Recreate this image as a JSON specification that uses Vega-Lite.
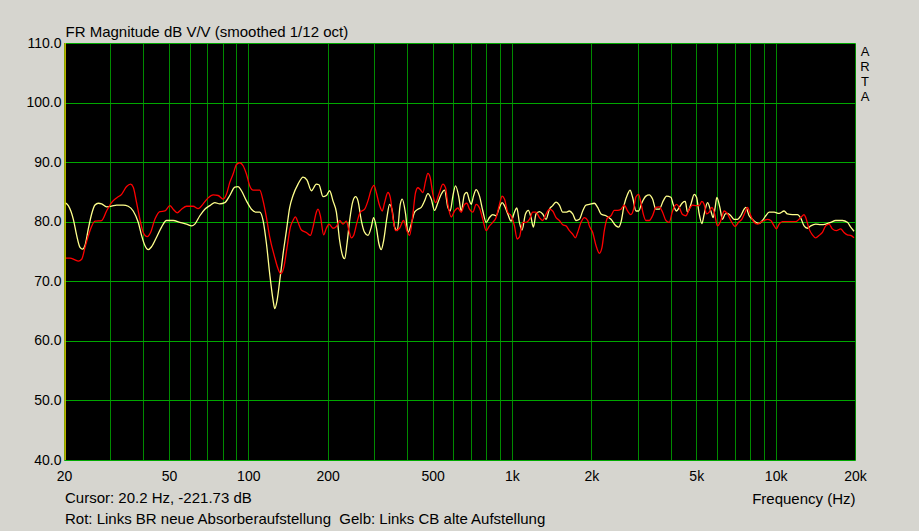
{
  "$schema": "https://vega.github.io/schema/vega-lite/v6.json",
  "width": 791,
  "height": 417,
  "autosize": "none",
  "padding": {"left": 64, "top": 43, "right": 64, "bottom": 71},
  "background": "#d6d5cf",
  "config": {
    "view": {"fill": "#000000", "stroke": null},
    "font": "Liberation Sans",
    "text": {"font": "Liberation Sans", "fontSize": 15, "color": "#000000"}
  },
  "datasets": {
    "fr": [
      {"s": "Gelb", "f": 20.17, "db": 83.2}, {"s": "Gelb", "f": 20.77, "db": 82.7}, {"s": "Gelb", "f": 21.7, "db": 80.4},
      {"s": "Gelb", "f": 22.34, "db": 77.7}, {"s": "Gelb", "f": 23.0, "db": 75.7}, {"s": "Gelb", "f": 23.53, "db": 75.4},
      {"s": "Gelb", "f": 24.02, "db": 76.0}, {"s": "Gelb", "f": 24.73, "db": 78.8}, {"s": "Gelb", "f": 25.46, "db": 81.3},
      {"s": "Gelb", "f": 26.21, "db": 82.8}, {"s": "Gelb", "f": 26.98, "db": 83.1}, {"s": "Gelb", "f": 27.78, "db": 83.0},
      {"s": "Gelb", "f": 29.01, "db": 82.5}, {"s": "Gelb", "f": 30.31, "db": 82.6}, {"s": "Gelb", "f": 31.66, "db": 82.8},
      {"s": "Gelb", "f": 33.56, "db": 82.8}, {"s": "Gelb", "f": 35.05, "db": 82.6}, {"s": "Gelb", "f": 36.6, "db": 81.8},
      {"s": "Gelb", "f": 38.24, "db": 79.9}, {"s": "Gelb", "f": 39.37, "db": 77.7}, {"s": "Gelb", "f": 40.54, "db": 76.0},
      {"s": "Gelb", "f": 41.73, "db": 75.3}, {"s": "Gelb", "f": 42.96, "db": 75.8}, {"s": "Gelb", "f": 44.88, "db": 77.4},
      {"s": "Gelb", "f": 46.88, "db": 79.1}, {"s": "Gelb", "f": 48.97, "db": 80.2}, {"s": "Gelb", "f": 51.9, "db": 80.2},
      {"s": "Gelb", "f": 55.01, "db": 79.9}, {"s": "Gelb", "f": 58.31, "db": 79.6}, {"s": "Gelb", "f": 60.9, "db": 79.3},
      {"s": "Gelb", "f": 62.69, "db": 79.6}, {"s": "Gelb", "f": 65.5, "db": 81.0}, {"s": "Gelb", "f": 68.42, "db": 82.1},
      {"s": "Gelb", "f": 71.47, "db": 82.7}, {"s": "Gelb", "f": 74.65, "db": 83.2}, {"s": "Gelb", "f": 77.98, "db": 83.0},
      {"s": "Gelb", "f": 81.45, "db": 83.2}, {"s": "Gelb", "f": 85.08, "db": 84.4}, {"s": "Gelb", "f": 88.87, "db": 85.8},
      {"s": "Gelb", "f": 91.5, "db": 85.9}, {"s": "Gelb", "f": 94.19, "db": 85.2}, {"s": "Gelb", "f": 98.4, "db": 83.5},
      {"s": "Gelb", "f": 102.8, "db": 82.1}, {"s": "Gelb", "f": 107.4, "db": 81.6}, {"s": "Gelb", "f": 110.5, "db": 81.6},
      {"s": "Gelb", "f": 113.8, "db": 80.2}, {"s": "Gelb", "f": 117.2, "db": 76.3}, {"s": "Gelb", "f": 120.6, "db": 71.2},
      {"s": "Gelb", "f": 124.2, "db": 66.8}, {"s": "Gelb", "f": 126.0, "db": 65.4}, {"s": "Gelb", "f": 128.6, "db": 66.8},
      {"s": "Gelb", "f": 131.6, "db": 70.1}, {"s": "Gelb", "f": 135.5, "db": 74.6}, {"s": "Gelb", "f": 139.5, "db": 78.5},
      {"s": "Gelb", "f": 143.6, "db": 82.4}, {"s": "Gelb", "f": 147.8, "db": 84.4}, {"s": "Gelb", "f": 154.4, "db": 86.3},
      {"s": "Gelb", "f": 161.3, "db": 87.5}, {"s": "Gelb", "f": 167.0, "db": 87.0}, {"s": "Gelb", "f": 173.5, "db": 85.2},
      {"s": "Gelb", "f": 181.2, "db": 86.3}, {"s": "Gelb", "f": 185.4, "db": 86.2}, {"s": "Gelb", "f": 192.0, "db": 84.2},
      {"s": "Gelb", "f": 197.7, "db": 84.4}, {"s": "Gelb", "f": 203.5, "db": 85.2}, {"s": "Gelb", "f": 209.5, "db": 83.5},
      {"s": "Gelb", "f": 215.8, "db": 81.6}, {"s": "Gelb", "f": 222.1, "db": 76.8}, {"s": "Gelb", "f": 228.7, "db": 74.1},
      {"s": "Gelb", "f": 232.0, "db": 73.8}, {"s": "Gelb", "f": 236.8, "db": 76.3}, {"s": "Gelb", "f": 242.3, "db": 80.2},
      {"s": "Gelb", "f": 249.5, "db": 83.5}, {"s": "Gelb", "f": 255.3, "db": 84.2}, {"s": "Gelb", "f": 260.6, "db": 83.5},
      {"s": "Gelb", "f": 268.3, "db": 80.2}, {"s": "Gelb", "f": 276.2, "db": 78.2}, {"s": "Gelb", "f": 284.3, "db": 77.7},
      {"s": "Gelb", "f": 292.7, "db": 79.1}, {"s": "Gelb", "f": 298.7, "db": 80.7}, {"s": "Gelb", "f": 305.8, "db": 79.1},
      {"s": "Gelb", "f": 312.9, "db": 76.3}, {"s": "Gelb", "f": 319.4, "db": 75.3}, {"s": "Gelb", "f": 326.0, "db": 76.8},
      {"s": "Gelb", "f": 335.6, "db": 80.7}, {"s": "Gelb", "f": 343.5, "db": 82.9}, {"s": "Gelb", "f": 351.6, "db": 81.8},
      {"s": "Gelb", "f": 358.8, "db": 79.1}, {"s": "Gelb", "f": 367.2, "db": 78.5}, {"s": "Gelb", "f": 376.9, "db": 82.9},
      {"s": "Gelb", "f": 383.6, "db": 83.8}, {"s": "Gelb", "f": 394.9, "db": 81.3}, {"s": "Gelb", "f": 403.0, "db": 78.2},
      {"s": "Gelb", "f": 414.9, "db": 79.6}, {"s": "Gelb", "f": 427.2, "db": 81.6}, {"s": "Gelb", "f": 439.8, "db": 82.1},
      {"s": "Gelb", "f": 452.8, "db": 82.4}, {"s": "Gelb", "f": 466.2, "db": 83.5}, {"s": "Gelb", "f": 479.9, "db": 84.7},
      {"s": "Gelb", "f": 494.1, "db": 83.8}, {"s": "Gelb", "f": 508.6, "db": 81.9}, {"s": "Gelb", "f": 523.6, "db": 83.2},
      {"s": "Gelb", "f": 539.1, "db": 84.6}, {"s": "Gelb", "f": 555.0, "db": 85.3}, {"s": "Gelb", "f": 571.4, "db": 82.4},
      {"s": "Gelb", "f": 583.1, "db": 81.8}, {"s": "Gelb", "f": 596.9, "db": 84.3}, {"s": "Gelb", "f": 610.9, "db": 86.0},
      {"s": "Gelb", "f": 628.9, "db": 84.1}, {"s": "Gelb", "f": 641.8, "db": 81.8}, {"s": "Gelb", "f": 660.7, "db": 84.6},
      {"s": "Gelb", "f": 674.3, "db": 84.9}, {"s": "Gelb", "f": 690.2, "db": 83.5}, {"s": "Gelb", "f": 700.3, "db": 82.9},
      {"s": "Gelb", "f": 714.7, "db": 84.3}, {"s": "Gelb", "f": 731.5, "db": 85.4}, {"s": "Gelb", "f": 753.1, "db": 84.3},
      {"s": "Gelb", "f": 775.3, "db": 81.8}, {"s": "Gelb", "f": 798.2, "db": 79.9}, {"s": "Gelb", "f": 821.7, "db": 80.7},
      {"s": "Gelb", "f": 845.9, "db": 81.2}, {"s": "Gelb", "f": 870.8, "db": 81.0}, {"s": "Gelb", "f": 896.6, "db": 82.4},
      {"s": "Gelb", "f": 917.7, "db": 83.2}, {"s": "Gelb", "f": 936.6, "db": 82.7}, {"s": "Gelb", "f": 964.2, "db": 81.3},
      {"s": "Gelb", "f": 992.5, "db": 80.1}, {"s": "Gelb", "f": 1022, "db": 81.6}, {"s": "Gelb", "f": 1043, "db": 82.3},
      {"s": "Gelb", "f": 1067, "db": 79.9}, {"s": "Gelb", "f": 1092, "db": 78.6}, {"s": "Gelb", "f": 1125, "db": 81.3},
      {"s": "Gelb", "f": 1154, "db": 81.9}, {"s": "Gelb", "f": 1181, "db": 80.7}, {"s": "Gelb", "f": 1206, "db": 79.1},
      {"s": "Gelb", "f": 1234, "db": 81.3}, {"s": "Gelb", "f": 1271, "db": 81.7}, {"s": "Gelb", "f": 1308, "db": 81.3},
      {"s": "Gelb", "f": 1347, "db": 80.4}, {"s": "Gelb", "f": 1387, "db": 82.1}, {"s": "Gelb", "f": 1427, "db": 82.7},
      {"s": "Gelb", "f": 1470, "db": 83.3}, {"s": "Gelb", "f": 1513, "db": 82.8}, {"s": "Gelb", "f": 1558, "db": 81.6},
      {"s": "Gelb", "f": 1604, "db": 81.6}, {"s": "Gelb", "f": 1651, "db": 81.8}, {"s": "Gelb", "f": 1700, "db": 81.3},
      {"s": "Gelb", "f": 1750, "db": 80.2}, {"s": "Gelb", "f": 1802, "db": 80.4}, {"s": "Gelb", "f": 1855, "db": 81.8},
      {"s": "Gelb", "f": 1909, "db": 82.8}, {"s": "Gelb", "f": 1966, "db": 82.9}, {"s": "Gelb", "f": 2053, "db": 83.1},
      {"s": "Gelb", "f": 2114, "db": 82.4}, {"s": "Gelb", "f": 2176, "db": 81.3}, {"s": "Gelb", "f": 2273, "db": 81.0},
      {"s": "Gelb", "f": 2374, "db": 80.4}, {"s": "Gelb", "f": 2480, "db": 79.3}, {"s": "Gelb", "f": 2538, "db": 79.1},
      {"s": "Gelb", "f": 2590, "db": 79.9}, {"s": "Gelb", "f": 2667, "db": 82.9}, {"s": "Gelb", "f": 2745, "db": 84.6},
      {"s": "Gelb", "f": 2802, "db": 85.3}, {"s": "Gelb", "f": 2868, "db": 84.1}, {"s": "Gelb", "f": 2953, "db": 81.8},
      {"s": "Gelb", "f": 3022, "db": 81.8}, {"s": "Gelb", "f": 3111, "db": 83.2}, {"s": "Gelb", "f": 3221, "db": 84.3},
      {"s": "Gelb", "f": 3316, "db": 84.5}, {"s": "Gelb", "f": 3414, "db": 83.8}, {"s": "Gelb", "f": 3515, "db": 82.1},
      {"s": "Gelb", "f": 3619, "db": 82.1}, {"s": "Gelb", "f": 3747, "db": 83.5}, {"s": "Gelb", "f": 3858, "db": 84.3},
      {"s": "Gelb", "f": 4007, "db": 84.1}, {"s": "Gelb", "f": 4089, "db": 82.9}, {"s": "Gelb", "f": 4210, "db": 81.8},
      {"s": "Gelb", "f": 4309, "db": 82.4}, {"s": "Gelb", "f": 4436, "db": 83.2}, {"s": "Gelb", "f": 4541, "db": 83.4},
      {"s": "Gelb", "f": 4634, "db": 81.6}, {"s": "Gelb", "f": 4770, "db": 82.9}, {"s": "Gelb", "f": 4911, "db": 84.6},
      {"s": "Gelb", "f": 5012, "db": 84.1}, {"s": "Gelb", "f": 5130, "db": 81.3}, {"s": "Gelb", "f": 5251, "db": 79.7},
      {"s": "Gelb", "f": 5359, "db": 81.3}, {"s": "Gelb", "f": 5517, "db": 83.2}, {"s": "Gelb", "f": 5680, "db": 81.8},
      {"s": "Gelb", "f": 5796, "db": 80.7}, {"s": "Gelb", "f": 5898, "db": 82.4}, {"s": "Gelb", "f": 5985, "db": 84.1},
      {"s": "Gelb", "f": 6144, "db": 82.4}, {"s": "Gelb", "f": 6288, "db": 80.4}, {"s": "Gelb", "f": 6436, "db": 81.3},
      {"s": "Gelb", "f": 6568, "db": 81.4}, {"s": "Gelb", "f": 6762, "db": 81.0}, {"s": "Gelb", "f": 6961, "db": 80.4},
      {"s": "Gelb", "f": 7166, "db": 80.4}, {"s": "Gelb", "f": 7378, "db": 81.0}, {"s": "Gelb", "f": 7595, "db": 82.1},
      {"s": "Gelb", "f": 7706, "db": 82.4}, {"s": "Gelb", "f": 7934, "db": 81.0}, {"s": "Gelb", "f": 8168, "db": 80.4},
      {"s": "Gelb", "f": 8409, "db": 79.9}, {"s": "Gelb", "f": 8657, "db": 79.7}, {"s": "Gelb", "f": 8913, "db": 80.2},
      {"s": "Gelb", "f": 9176, "db": 81.0}, {"s": "Gelb", "f": 9446, "db": 81.6}, {"s": "Gelb", "f": 9868, "db": 81.6},
      {"s": "Gelb", "f": 10308, "db": 81.4}, {"s": "Gelb", "f": 10768, "db": 81.8}, {"s": "Gelb", "f": 11085, "db": 81.3},
      {"s": "Gelb", "f": 11580, "db": 81.2}, {"s": "Gelb", "f": 12096, "db": 81.2}, {"s": "Gelb", "f": 12453, "db": 80.6},
      {"s": "Gelb", "f": 12820, "db": 79.3}, {"s": "Gelb", "f": 13198, "db": 78.9}, {"s": "Gelb", "f": 13587, "db": 79.3},
      {"s": "Gelb", "f": 14193, "db": 79.6}, {"s": "Gelb", "f": 14826, "db": 79.5}, {"s": "Gelb", "f": 15487, "db": 79.6},
      {"s": "Gelb", "f": 16178, "db": 79.9}, {"s": "Gelb", "f": 16899, "db": 80.2}, {"s": "Gelb", "f": 17911, "db": 80.2},
      {"s": "Gelb", "f": 18710, "db": 79.9}, {"s": "Gelb", "f": 19262, "db": 79.1}, {"s": "Gelb", "f": 19830, "db": 78.4},

      {"s": "Rot", "f": 20.2, "db": 73.9}, {"s": "Rot", "f": 21.08, "db": 73.9}, {"s": "Rot", "f": 22.02, "db": 73.6},
      {"s": "Rot", "f": 22.67, "db": 73.4}, {"s": "Rot", "f": 23.34, "db": 73.7}, {"s": "Rot", "f": 24.03, "db": 75.7},
      {"s": "Rot", "f": 25.09, "db": 78.5}, {"s": "Rot", "f": 26.21, "db": 80.1}, {"s": "Rot", "f": 27.78, "db": 80.2},
      {"s": "Rot", "f": 29.01, "db": 81.8}, {"s": "Rot", "f": 30.3, "db": 83.2}, {"s": "Rot", "f": 31.66, "db": 84.0},
      {"s": "Rot", "f": 33.07, "db": 84.6}, {"s": "Rot", "f": 34.55, "db": 85.9}, {"s": "Rot", "f": 35.78, "db": 86.3},
      {"s": "Rot", "f": 36.62, "db": 85.8}, {"s": "Rot", "f": 37.7, "db": 83.2}, {"s": "Rot", "f": 38.81, "db": 80.4},
      {"s": "Rot", "f": 39.95, "db": 78.2}, {"s": "Rot", "f": 41.37, "db": 77.5}, {"s": "Rot", "f": 42.59, "db": 78.2},
      {"s": "Rot", "f": 44.23, "db": 80.4}, {"s": "Rot", "f": 46.2, "db": 81.7}, {"s": "Rot", "f": 48.26, "db": 81.8},
      {"s": "Rot", "f": 50.42, "db": 82.7}, {"s": "Rot", "f": 51.9, "db": 82.1}, {"s": "Rot", "f": 53.75, "db": 81.5},
      {"s": "Rot", "f": 55.82, "db": 82.1}, {"s": "Rot", "f": 58.31, "db": 82.6}, {"s": "Rot", "f": 61.8, "db": 82.6},
      {"s": "Rot", "f": 64.55, "db": 82.2}, {"s": "Rot", "f": 67.43, "db": 83.0}, {"s": "Rot", "f": 70.43, "db": 84.0},
      {"s": "Rot", "f": 73.56, "db": 84.5}, {"s": "Rot", "f": 76.84, "db": 84.4}, {"s": "Rot", "f": 80.26, "db": 83.8},
      {"s": "Rot", "f": 82.63, "db": 84.6}, {"s": "Rot", "f": 85.08, "db": 86.6}, {"s": "Rot", "f": 87.59, "db": 88.0},
      {"s": "Rot", "f": 90.18, "db": 89.6}, {"s": "Rot", "f": 92.84, "db": 89.9}, {"s": "Rot", "f": 95.57, "db": 89.4},
      {"s": "Rot", "f": 98.39, "db": 88.0}, {"s": "Rot", "f": 101.3, "db": 86.0}, {"s": "Rot", "f": 104.3, "db": 85.3},
      {"s": "Rot", "f": 110.5, "db": 85.3}, {"s": "Rot", "f": 113.8, "db": 83.5}, {"s": "Rot", "f": 117.2, "db": 80.7},
      {"s": "Rot", "f": 120.6, "db": 77.4}, {"s": "Rot", "f": 126.0, "db": 74.0}, {"s": "Rot", "f": 129.7, "db": 72.1},
      {"s": "Rot", "f": 132.8, "db": 71.3}, {"s": "Rot", "f": 136.3, "db": 72.3}, {"s": "Rot", "f": 140.3, "db": 75.7},
      {"s": "Rot", "f": 144.4, "db": 79.1}, {"s": "Rot", "f": 147.8, "db": 80.2}, {"s": "Rot", "f": 150.8, "db": 80.8},
      {"s": "Rot", "f": 154.4, "db": 79.9}, {"s": "Rot", "f": 159.0, "db": 78.6}, {"s": "Rot", "f": 166.0, "db": 78.2},
      {"s": "Rot", "f": 172.0, "db": 77.7}, {"s": "Rot", "f": 176.0, "db": 79.1}, {"s": "Rot", "f": 181.2, "db": 81.6},
      {"s": "Rot", "f": 183.8, "db": 82.1}, {"s": "Rot", "f": 187.6, "db": 81.0}, {"s": "Rot", "f": 193.1, "db": 77.8},
      {"s": "Rot", "f": 197.7, "db": 78.9}, {"s": "Rot", "f": 202.4, "db": 79.6}, {"s": "Rot", "f": 209.5, "db": 78.9},
      {"s": "Rot", "f": 215.8, "db": 79.2}, {"s": "Rot", "f": 222.1, "db": 80.2}, {"s": "Rot", "f": 228.7, "db": 79.6},
      {"s": "Rot", "f": 235.4, "db": 80.1}, {"s": "Rot", "f": 240.9, "db": 78.5}, {"s": "Rot", "f": 245.9, "db": 77.3},
      {"s": "Rot", "f": 250.9, "db": 77.7}, {"s": "Rot", "f": 258.4, "db": 79.9}, {"s": "Rot", "f": 266.0, "db": 81.6},
      {"s": "Rot", "f": 276.2, "db": 82.1}, {"s": "Rot", "f": 284.3, "db": 83.5}, {"s": "Rot", "f": 292.7, "db": 85.4},
      {"s": "Rot", "f": 299.6, "db": 86.1}, {"s": "Rot", "f": 305.8, "db": 84.9}, {"s": "Rot", "f": 314.8, "db": 82.7},
      {"s": "Rot", "f": 322.2, "db": 81.8}, {"s": "Rot", "f": 328.8, "db": 83.2}, {"s": "Rot", "f": 338.5, "db": 84.9},
      {"s": "Rot", "f": 345.5, "db": 84.1}, {"s": "Rot", "f": 353.6, "db": 80.7}, {"s": "Rot", "f": 362.0, "db": 78.5},
      {"s": "Rot", "f": 374.8, "db": 78.9}, {"s": "Rot", "f": 388.1, "db": 80.2}, {"s": "Rot", "f": 399.5, "db": 78.5},
      {"s": "Rot", "f": 408.9, "db": 77.7}, {"s": "Rot", "f": 421.0, "db": 81.3}, {"s": "Rot", "f": 430.9, "db": 84.9},
      {"s": "Rot", "f": 439.8, "db": 85.7}, {"s": "Rot", "f": 448.8, "db": 85.4}, {"s": "Rot", "f": 459.4, "db": 84.9},
      {"s": "Rot", "f": 470.2, "db": 86.8}, {"s": "Rot", "f": 479.9, "db": 88.1}, {"s": "Rot", "f": 489.7, "db": 87.4},
      {"s": "Rot", "f": 501.2, "db": 84.6}, {"s": "Rot", "f": 513.1, "db": 83.2}, {"s": "Rot", "f": 528.2, "db": 84.6},
      {"s": "Rot", "f": 547.0, "db": 86.3}, {"s": "Rot", "f": 559.9, "db": 85.7}, {"s": "Rot", "f": 571.4, "db": 82.9},
      {"s": "Rot", "f": 588.3, "db": 80.8}, {"s": "Rot", "f": 605.6, "db": 81.8}, {"s": "Rot", "f": 623.4, "db": 82.3},
      {"s": "Rot", "f": 641.8, "db": 81.6}, {"s": "Rot", "f": 660.7, "db": 82.9}, {"s": "Rot", "f": 674.3, "db": 83.1},
      {"s": "Rot", "f": 690.2, "db": 82.1}, {"s": "Rot", "f": 710.5, "db": 81.6}, {"s": "Rot", "f": 731.5, "db": 82.9},
      {"s": "Rot", "f": 753.1, "db": 82.3}, {"s": "Rot", "f": 775.3, "db": 80.4}, {"s": "Rot", "f": 798.2, "db": 78.5},
      {"s": "Rot", "f": 821.7, "db": 79.3}, {"s": "Rot", "f": 845.9, "db": 79.9}, {"s": "Rot", "f": 870.8, "db": 80.7},
      {"s": "Rot", "f": 896.6, "db": 82.9}, {"s": "Rot", "f": 917.7, "db": 84.3}, {"s": "Rot", "f": 936.6, "db": 83.8},
      {"s": "Rot", "f": 964.2, "db": 81.6}, {"s": "Rot", "f": 992.5, "db": 81.0}, {"s": "Rot", "f": 1022, "db": 79.3},
      {"s": "Rot", "f": 1046, "db": 77.1}, {"s": "Rot", "f": 1067, "db": 77.4}, {"s": "Rot", "f": 1099, "db": 79.9},
      {"s": "Rot", "f": 1131, "db": 79.9}, {"s": "Rot", "f": 1165, "db": 80.4}, {"s": "Rot", "f": 1199, "db": 81.6},
      {"s": "Rot", "f": 1234, "db": 81.6}, {"s": "Rot", "f": 1271, "db": 80.7}, {"s": "Rot", "f": 1308, "db": 80.2},
      {"s": "Rot", "f": 1347, "db": 81.3}, {"s": "Rot", "f": 1387, "db": 82.1}, {"s": "Rot", "f": 1427, "db": 81.8},
      {"s": "Rot", "f": 1470, "db": 80.7}, {"s": "Rot", "f": 1513, "db": 80.2}, {"s": "Rot", "f": 1558, "db": 79.5},
      {"s": "Rot", "f": 1604, "db": 79.3}, {"s": "Rot", "f": 1651, "db": 78.5}, {"s": "Rot", "f": 1700, "db": 77.9},
      {"s": "Rot", "f": 1740, "db": 77.3}, {"s": "Rot", "f": 1775, "db": 78.2}, {"s": "Rot", "f": 1828, "db": 79.9},
      {"s": "Rot", "f": 1882, "db": 80.7}, {"s": "Rot", "f": 1938, "db": 80.2}, {"s": "Rot", "f": 1966, "db": 79.3},
      {"s": "Rot", "f": 2024, "db": 78.2}, {"s": "Rot", "f": 2083, "db": 76.0}, {"s": "Rot", "f": 2145, "db": 74.7},
      {"s": "Rot", "f": 2195, "db": 75.7}, {"s": "Rot", "f": 2240, "db": 78.5}, {"s": "Rot", "f": 2307, "db": 80.7},
      {"s": "Rot", "f": 2374, "db": 81.0}, {"s": "Rot", "f": 2444, "db": 81.9}, {"s": "Rot", "f": 2516, "db": 81.9},
      {"s": "Rot", "f": 2590, "db": 82.1}, {"s": "Rot", "f": 2667, "db": 82.8}, {"s": "Rot", "f": 2745, "db": 81.8},
      {"s": "Rot", "f": 2826, "db": 81.2}, {"s": "Rot", "f": 2893, "db": 82.1}, {"s": "Rot", "f": 2953, "db": 84.2},
      {"s": "Rot", "f": 3022, "db": 84.6}, {"s": "Rot", "f": 3084, "db": 83.2}, {"s": "Rot", "f": 3148, "db": 81.3},
      {"s": "Rot", "f": 3221, "db": 80.2}, {"s": "Rot", "f": 3316, "db": 80.2}, {"s": "Rot", "f": 3414, "db": 81.0},
      {"s": "Rot", "f": 3515, "db": 82.4}, {"s": "Rot", "f": 3619, "db": 82.5}, {"s": "Rot", "f": 3726, "db": 81.6},
      {"s": "Rot", "f": 3836, "db": 80.2}, {"s": "Rot", "f": 3949, "db": 79.9}, {"s": "Rot", "f": 4065, "db": 81.8},
      {"s": "Rot", "f": 4210, "db": 82.9}, {"s": "Rot", "f": 4309, "db": 82.4}, {"s": "Rot", "f": 4436, "db": 81.2},
      {"s": "Rot", "f": 4567, "db": 81.0}, {"s": "Rot", "f": 4701, "db": 82.1}, {"s": "Rot", "f": 4840, "db": 82.8},
      {"s": "Rot", "f": 4983, "db": 82.7}, {"s": "Rot", "f": 5130, "db": 82.7}, {"s": "Rot", "f": 5251, "db": 83.4},
      {"s": "Rot", "f": 5359, "db": 82.9}, {"s": "Rot", "f": 5469, "db": 81.3}, {"s": "Rot", "f": 5598, "db": 81.6},
      {"s": "Rot", "f": 5730, "db": 82.4}, {"s": "Rot", "f": 5848, "db": 81.6}, {"s": "Rot", "f": 6020, "db": 79.3},
      {"s": "Rot", "f": 6197, "db": 80.2}, {"s": "Rot", "f": 6379, "db": 81.8}, {"s": "Rot", "f": 6568, "db": 81.3},
      {"s": "Rot", "f": 6762, "db": 80.2}, {"s": "Rot", "f": 7022, "db": 79.2}, {"s": "Rot", "f": 7229, "db": 79.9},
      {"s": "Rot", "f": 7442, "db": 80.4}, {"s": "Rot", "f": 7661, "db": 81.6}, {"s": "Rot", "f": 7819, "db": 82.4},
      {"s": "Rot", "f": 8049, "db": 81.0}, {"s": "Rot", "f": 8287, "db": 79.9}, {"s": "Rot", "f": 8531, "db": 79.6},
      {"s": "Rot", "f": 8783, "db": 79.9}, {"s": "Rot", "f": 9042, "db": 80.2}, {"s": "Rot", "f": 9309, "db": 80.4},
      {"s": "Rot", "f": 9585, "db": 80.2}, {"s": "Rot", "f": 9868, "db": 79.3}, {"s": "Rot", "f": 10071, "db": 78.8},
      {"s": "Rot", "f": 10308, "db": 79.6}, {"s": "Rot", "f": 10612, "db": 80.0}, {"s": "Rot", "f": 11248, "db": 80.0},
      {"s": "Rot", "f": 11921, "db": 80.0}, {"s": "Rot", "f": 12453, "db": 80.7}, {"s": "Rot", "f": 12820, "db": 81.2},
      {"s": "Rot", "f": 13008, "db": 80.7}, {"s": "Rot", "f": 13391, "db": 78.8}, {"s": "Rot", "f": 13786, "db": 77.8},
      {"s": "Rot", "f": 14193, "db": 77.3}, {"s": "Rot", "f": 14612, "db": 77.7}, {"s": "Rot", "f": 15043, "db": 78.2},
      {"s": "Rot", "f": 15487, "db": 79.3}, {"s": "Rot", "f": 15944, "db": 79.6}, {"s": "Rot", "f": 16414, "db": 78.8},
      {"s": "Rot", "f": 16996, "db": 78.5}, {"s": "Rot", "f": 17650, "db": 78.8}, {"s": "Rot", "f": 18171, "db": 78.2},
      {"s": "Rot", "f": 18710, "db": 77.8}, {"s": "Rot", "f": 19262, "db": 77.7}, {"s": "Rot", "f": 19830, "db": 77.3}
    ]
  },
  "layer": [
    {
      "data": {"name": "fr"},
      "mark": {"type": "line", "strokeWidth": 1.3, "interpolate": "monotone", "clip": true},
      "encoding": {
        "x": {
          "field": "f",
          "type": "quantitative",
          "scale": {"type": "log", "domain": [20, 20000], "nice": false},
          "axis": {
            "title": "Frequency (Hz)",
            "titleFontSize": 15,
            "titleFontWeight": "normal",
            "titleColor": "#000000",
            "titleAlign": "right",
            "titleBaseline": "middle",
            "titleX": 791,
            "titleY": 38,
            "values": [20, 30, 40, 50, 60, 70, 80, 90, 100, 200, 300, 400, 500, 600, 700, 800, 900, 1000, 2000, 3000, 4000, 5000, 6000, 7000, 8000, 9000, 10000, 20000],
            "labelExpr": "indexof([20, 50, 100, 200, 500, 1000, 2000, 5000, 10000, 20000], datum.value) >= 0 ? (datum.value >= 1000 ? (datum.value / 1000) + 'k' : '' + datum.value) : ''",
            "labelOverlap": false,
            "labelFlush": false,
            "labelFontSize": 14,
            "labelColor": "#000000",
            "labelPadding": 9,
            "ticks": false,
            "domain": false,
            "grid": true,
            "gridWidth": 1,
            "gridColor": "#008a00"
          }
        },
        "y": {
          "field": "db",
          "type": "quantitative",
          "scale": {"domain": [40, 110], "nice": false, "zero": false},
          "axis": {
            "title": "FR Magnitude dB V/V (smoothed 1/12 oct)",
            "titleAngle": 0,
            "titleAlign": "left",
            "titleBaseline": "alphabetic",
            "titleX": 1,
            "titleY": -7,
            "titleFontSize": 15,
            "titleFontWeight": "normal",
            "titleColor": "#000000",
            "values": [40, 50, 60, 70, 80, 90, 100, 110],
            "format": ".1f",
            "labelFontSize": 14,
            "labelColor": "#000000",
            "labelPadding": 3,
            "ticks": false,
            "domain": false,
            "grid": true,
            "gridWidth": 1,
            "gridColor": "#00a800"
          }
        },
        "color": {
          "field": "s",
          "type": "nominal",
          "scale": {"domain": ["Gelb", "Rot"], "range": ["#ffff8c", "#ff0000"]},
          "legend": null
        }
      }
    },
    {
      "data": {"values": [{"cursor": 20.2}]},
      "mark": {"type": "rule", "color": "#d8c000", "strokeWidth": 1.5},
      "encoding": {"x": {"field": "cursor", "type": "quantitative"}}
    },
    {
      "data": {"values": [{"label": "A\nR\nT\nA"}]},
      "mark": {"type": "text", "align": "center", "baseline": "top", "dx": 10, "dy": 3, "lineBreak": "\n", "lineHeight": 15, "fontSize": 13},
      "encoding": {"x": {"datum": 20000}, "y": {"datum": 110}, "text": {"field": "label"}}
    },
    {
      "data": {"values": [{"label": "Cursor: 20.2 Hz, -221.73 dB"}]},
      "mark": {"type": "text", "align": "left", "baseline": "middle", "dx": 1, "dy": 38, "fontSize": 15},
      "encoding": {"x": {"datum": 20}, "y": {"datum": 40}, "text": {"field": "label"}}
    },
    {
      "data": {"values": [{"label": "Rot: Links BR neue Absorberaufstellung \u00a0Gelb: Links CB alte Aufstellung"}]},
      "mark": {"type": "text", "align": "left", "baseline": "middle", "dx": 1, "dy": 59, "fontSize": 15},
      "encoding": {"x": {"datum": 20}, "y": {"datum": 40}, "text": {"field": "label"}}
    }
  ]
}
